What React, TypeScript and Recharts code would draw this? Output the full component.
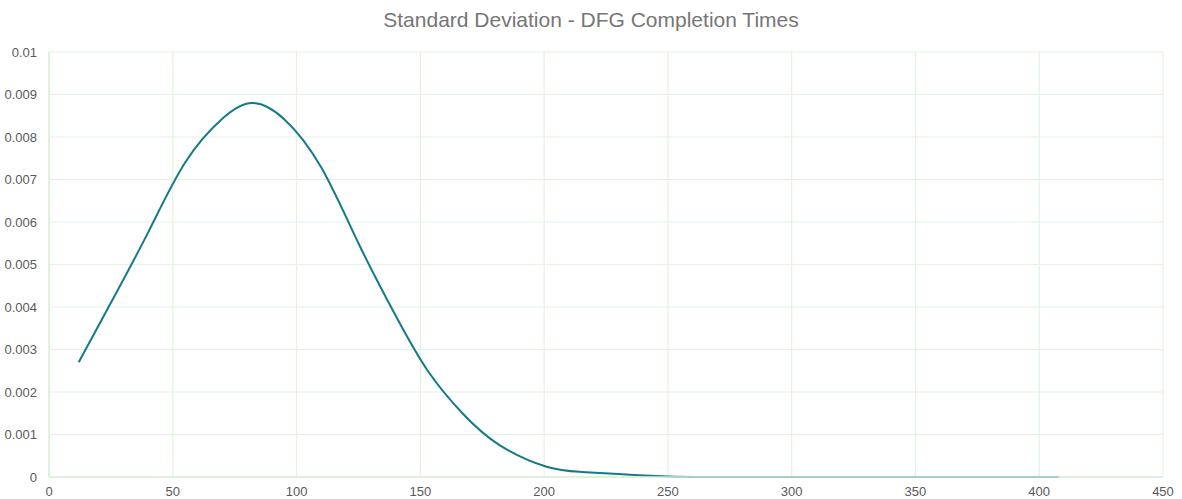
import React from "react";
import { LineChart, Line, XAxis, YAxis, CartesianGrid } from "recharts";

const completionTimes = [12, 25, 40, 55, 70, 82, 95, 110, 125, 140, 153, 167, 182, 201, 215, 230, 250, 270, 330, 408];
const densityValues = [0.0027, 0.0041, 0.00575, 0.0074, 0.00843, 0.0088, 0.00842, 0.00728, 0.0055, 0.0038, 0.0025, 0.0015, 0.00075, 0.00024, 0.00012, 0.00007, 0.00001, 0, 0, 0];
const xTicks = [0, 50, 100, 150, 200, 250, 300, 350, 400, 450];
const yTicks = [0, 0.001, 0.002, 0.003, 0.004, 0.005, 0.006, 0.007, 0.008, 0.009, 0.01];
const title = "Standard Deviation - DFG Completion Times";

const data = completionTimes.map((t, i) => ({ t, d: densityValues[i] }));

const font = "'Liberation Sans', Arial, sans-serif";
const textColor = "#595959";

export default function App() {
  return (
    <div style={{ position: "absolute", left: 0, top: 0, width: 1182, height: 499, background: "#fff", fontFamily: font, overflow: "hidden" }}>
      <div style={{ position: "absolute", left: 0, top: 8, width: 1182, textAlign: "center", fontSize: 21, color: "#767676" }}>
        {title}
      </div>
      <LineChart width={1182} height={499} data={data} margin={{ top: 52, right: 19, bottom: 0, left: 9 }}>
        <CartesianGrid stroke="#e2f3e2" strokeWidth={1.2} />
        <XAxis
          dataKey="t"
          type="number"
          domain={[0, 450]}
          ticks={xTicks}
          interval={0}
          axisLine={{ stroke: "#d8eed8", strokeWidth: 1.5 }}
          tickLine={false}
          tickSize={0}
          tickMargin={10}
          tick={{ fill: textColor, fontSize: 13, fontFamily: font }}
          height={22}
        />
        <YAxis
          type="number"
          domain={[0, 0.01]}
          ticks={yTicks}
          interval={0}
          axisLine={{ stroke: "#d8eed8", strokeWidth: 1.5 }}
          tickLine={false}
          tickSize={0}
          tickMargin={12}
          tick={{ fill: textColor, fontSize: 13, fontFamily: font }}
          width={40}
        />
        <Line
          type="natural"
          dataKey="d"
          stroke="#137a87"
          strokeWidth={2}
          dot={false}
          isAnimationActive={false}
        />
      </LineChart>
    </div>
  );
}
